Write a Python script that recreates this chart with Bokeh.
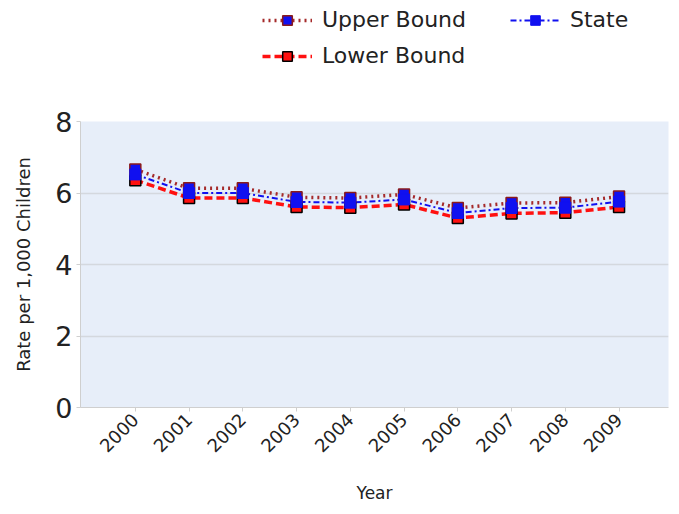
import math
from bokeh.plotting import figure
from bokeh.layouts import column
from bokeh.models import Range1d, FixedTicker, Legend, LegendItem
from bokeh.embed import file_html
from bokeh.resources import INLINE

years = [2000, 2001, 2002, 2003, 2004, 2005, 2006, 2007, 2008, 2009]
year_labels = ["2000", "2001", "2002", "2003", "2004", "2005", "2006", "2007", "2008", "2009"]
state = [6.52, 6.00, 6.00, 5.75, 5.73, 5.82, 5.44, 5.58, 5.59, 5.76]
upper = [6.66, 6.13, 6.13, 5.88, 5.86, 5.96, 5.58, 5.72, 5.73, 5.90]
lower = [6.36, 5.86, 5.86, 5.61, 5.59, 5.68, 5.30, 5.43, 5.45, 5.61]
y_ticks = [0, 2, 4, 6, 8]

FONT = "DejaVu Sans"
W = 671
LEG_H = 100

# styles
U_LINE = dict(line_color="#A52A2A", line_width=3.5, line_dash="2 4")
L_LINE = dict(line_color="#FF1010", line_width=3.5, line_dash="8 4")
S_LINE = dict(line_color="#1010F0", line_width=2, line_dash="6 3 2 3")
U_MARK = dict(marker="square", fill_color="#1010F0", line_color="#8B1A1A", line_width=1.5)
L_MARK = dict(marker="square", fill_color="#FF1010", line_color="black", line_width=1.5)
S_MARK = dict(marker="square", fill_color="#1010F0", line_color="#1010F0", line_width=1)

# ---- main chart ----
p = figure(width=W, height=506 - LEG_H, output_backend="svg", toolbar_location=None,
           x_range=Range1d(1998.98, 2009.92), y_range=Range1d(0, 8),
           min_border_left=80, min_border_right=3, min_border_top=21, min_border_bottom=99)
p.background_fill_color = "#E7EEF9"
p.border_fill_color = "white"
p.outline_line_color = None

p.xaxis.ticker = FixedTicker(ticks=years)
p.xaxis.major_label_overrides = {y: l for y, l in zip(years, year_labels)}
p.xaxis.major_label_orientation = math.pi / 4
p.xaxis.major_label_text_font = FONT
p.xaxis.major_label_text_font_size = "18px"
p.xaxis.major_label_text_color = "#222222"
p.xaxis.axis_line_color = "#CFCFCF"
p.xaxis.major_tick_line_color = "#CFCFCF"
p.xaxis.major_tick_in = 0
p.xaxis.major_tick_out = 4
p.xaxis.minor_tick_line_color = None
p.xaxis.axis_label = "Year"
p.xaxis.axis_label_text_font = FONT
p.xaxis.axis_label_text_font_size = "17px"
p.xaxis.axis_label_text_font_style = "normal"
p.xaxis.axis_label_text_color = "#222222"
p.xaxis.axis_label_standoff = 22

p.yaxis.ticker = FixedTicker(ticks=y_ticks)
p.yaxis.major_label_text_font = FONT
p.yaxis.major_label_text_font_size = "27px"
p.yaxis.major_label_text_color = "#222222"
p.yaxis.axis_line_color = "#CFCFCF"
p.yaxis.major_tick_line_color = "#CFCFCF"
p.yaxis.major_tick_in = 0
p.yaxis.major_tick_out = 4
p.yaxis.minor_tick_line_color = None
p.yaxis.major_label_standoff = 4
p.yaxis.axis_label = "Rate per 1,000 Children"
p.yaxis.axis_label_text_font = FONT
p.yaxis.axis_label_text_font_size = "18px"
p.yaxis.axis_label_text_font_style = "normal"
p.yaxis.axis_label_text_color = "#222222"
p.yaxis.axis_label_standoff = 18

p.xgrid.grid_line_color = None
p.ygrid.grid_line_color = "#D4D8DE"
p.ygrid.grid_line_width = 1.5

p.line(years, lower, **L_LINE)
p.line(years, upper, **U_LINE)
p.line(years, state, **S_LINE)
p.scatter(years, lower, size=11, **L_MARK)
p.scatter(years, upper, size=11, **U_MARK)
p.scatter(years, state, size=11, **S_MARK)

# ---- legend strip (frame is aligned with the chart's frame by the column layout) ----
lg = figure(width=W, height=LEG_H, output_backend="svg", toolbar_location=None,
            x_range=Range1d(0, 1), y_range=Range1d(0, 1),
            min_border_left=0, min_border_right=0, min_border_top=0, min_border_bottom=0)
lg.axis.visible = False
lg.grid.visible = False
lg.outline_line_color = None
lg.background_fill_color = "white"

# same series, outside this strip's visible range: only their legend glyphs show
ul = lg.line(years, upper, **U_LINE)
um = lg.scatter(years, upper, size=10, **U_MARK)
ll = lg.line(years, lower, **L_LINE)
lm = lg.scatter(years, lower, size=10, **L_MARK)
sl = lg.line(years, state, **S_LINE)
sm = lg.scatter(years, state, size=10, **S_MARK)

legend = Legend(items=[LegendItem(label="Upper Bound", renderers=[ul, um]),
                       LegendItem(label="Lower Bound", renderers=[ll, lm]),
                       LegendItem(label="State", renderers=[sl, sm])],
                location=(182, 32), orientation="vertical", ncols=2,
                label_text_font=FONT, label_text_font_size="22px", label_text_color="#222222",
                glyph_width=50, glyph_height=24, label_height=24, label_width=177,
                label_standoff=10, spacing=11, padding=0, margin=0,
                background_fill_alpha=0, border_line_color=None)
lg.add_layout(legend, "center")

layout = column(lg, p, spacing=0)
open("out.html", "w").write(file_html(layout, INLINE))
